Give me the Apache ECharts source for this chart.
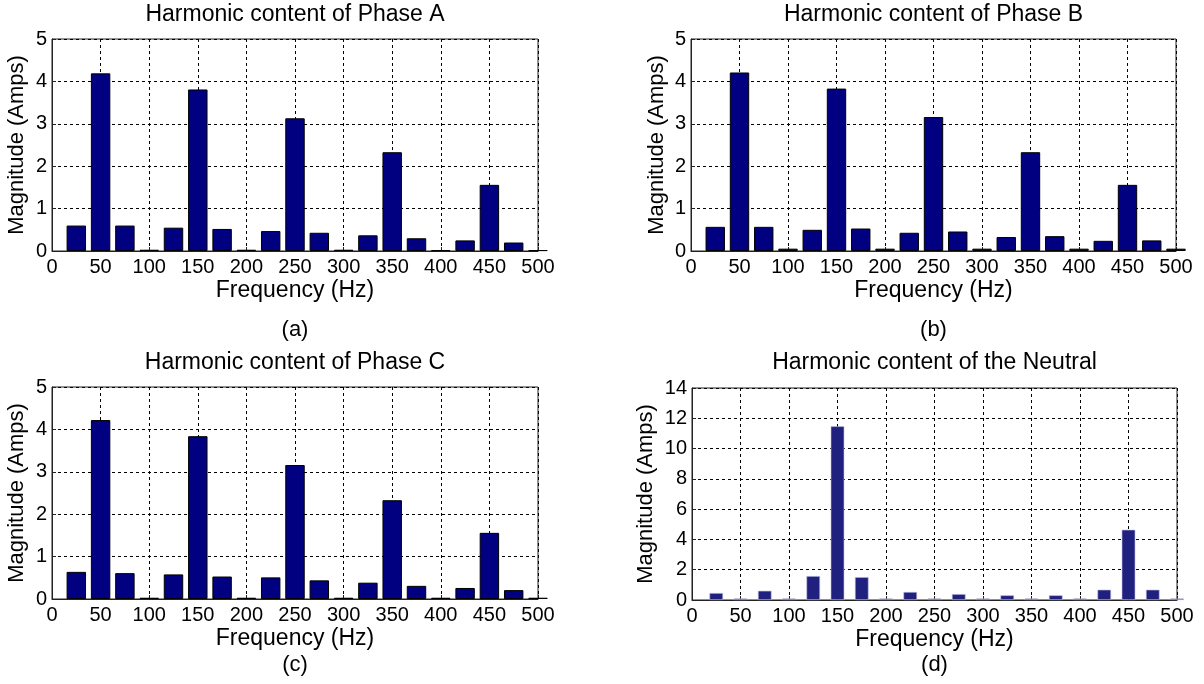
<!DOCTYPE html>
<html>
<head>
<meta charset="utf-8">
<script src="https://cdn.jsdelivr.net/npm/echarts@6/dist/echarts.min.js"></script>
<style>html,body{margin:0;padding:0;background:#fff;}#c{width:1204px;height:684px;}</style>
</head>
<body>
<div id="c"></div>
<script>
const freqs = [25,50,75,100,125,150,175,200,225,250,275,300,325,350,375,400,425,450,475,500];
const phaseA = [0.60,4.19,0.60,0.03,0.55,3.81,0.52,0.03,0.47,3.13,0.43,0.03,0.37,2.33,0.30,0.02,0.25,1.56,0.20,0.02];
const phaseB = [0.57,4.21,0.57,0.055,0.50,3.83,0.53,0.055,0.43,3.16,0.46,0.055,0.33,2.33,0.35,0.055,0.24,1.56,0.25,0.055];
const phaseC = [0.64,4.22,0.61,0.03,0.58,3.84,0.53,0.03,0.51,3.16,0.44,0.03,0.385,2.33,0.31,0.03,0.26,1.56,0.21,0.03];
const neutral = [0.46,0.1,0.61,0.1,1.58,11.47,1.51,0.1,0.53,0.1,0.39,0.1,0.31,0.1,0.31,0.1,0.68,4.64,0.68,0.1];
const titles = ['Harmonic content of Phase A','Harmonic content of Phase B','Harmonic content of Phase C','Harmonic content of the Neutral'];
const captions = ['(a)','(b)','(c)','(d)'];
const xName = 'Frequency (Hz)';
const yName = 'Magnitude (Amps)';

const FONT = '"Liberation Sans", Arial, sans-serif';
const grids = [
  {left:52, top:39, width:486, height:212},
  {left:691, top:39, width:485, height:212},
  {left:52, top:387, width:486, height:212},
  {left:692, top:388, width:485, height:212}
];
const titleY = [15, 15, 363, 363];
const captionY = [330, 330, 665, 665];
const yMax = [5,5,5,14];
const yInt = [1,1,1,2];
const yNameGap = [24,23,24,35];
const seriesData = [phaseA, phaseB, phaseC, neutral];

const option = {
  backgroundColor:'#fff',
  animation:false,
  title: grids.map((g,i)=>({
    text: titles[i], left: g.left + g.width/2, top: titleY[i], textAlign:'center', textVerticalAlign:'middle', padding:0,
    textStyle:{fontFamily:FONT, fontSize:23, fontWeight:'normal', color:'#000'}
  })).concat(grids.map((g,i)=>({
    text: captions[i], left: g.left + g.width/2, top: captionY[i], textAlign:'center', textVerticalAlign:'middle', padding:0,
    textStyle:{fontFamily:FONT, fontSize:22, fontWeight:'normal', color:'#000'}
  }))),
  grid: grids.map(g=>Object.assign({show:true, borderColor:'#222', borderWidth:1, backgroundColor:'#fff', containLabel:false}, g)),
  xAxis: grids.map((g,i)=>({
    type:'value', gridIndex:i, min:0, max:500, interval:50,
    name:xName, nameLocation:'middle', nameGap:28,
    nameTextStyle:{fontFamily:FONT, fontSize:23, color:'#000'},
    axisLine:{show:true, onZero:false, lineStyle:{color:'#222', width:1}},
    axisTick:{show:true, inside:true, length:4, lineStyle:{color:'#222'}},
    axisLabel:{fontFamily:FONT, fontSize:20, color:'#000', margin:6},
    splitLine:{show:true, lineStyle:{color:'#000', type:[3,3], width:1}}
  })),
  yAxis: grids.map((g,i)=>({
    type:'value', gridIndex:i, min:0, max:yMax[i], interval:yInt[i],
    name:yName, nameLocation:'middle', nameGap:yNameGap[i], nameRotate:90,
    nameTextStyle:{fontFamily:FONT, fontSize:22, color:'#000'},
    axisLine:{show:true, lineStyle:{color:'#222', width:1}},
    axisTick:{show:true, inside:true, length:4, lineStyle:{color:'#222'}},
    axisLabel:{fontFamily:FONT, fontSize:20, color:'#000', margin:5},
    splitLine:{show:true, lineStyle:{color:'#000', type:[3,3], width:1}}
  })),
  series: seriesData.map((d,i)=>({
    type:'bar', xAxisIndex:i, yAxisIndex:i, clip:true,
    barWidth: i===3 ? '56%' : '80%',
    data: freqs.map((f,k)=>[f, d[k]]),
    itemStyle: i===3 ? {color:'#20207f', borderColor:'#c0c0e0', borderWidth:0.6}
                     : {color:'#000080', borderColor:'#000', borderWidth:1}
  }))
};
const chart = echarts.init(document.getElementById('c'), null, {renderer:'canvas'});
chart.setOption(option);
</script>
</body>
</html>
